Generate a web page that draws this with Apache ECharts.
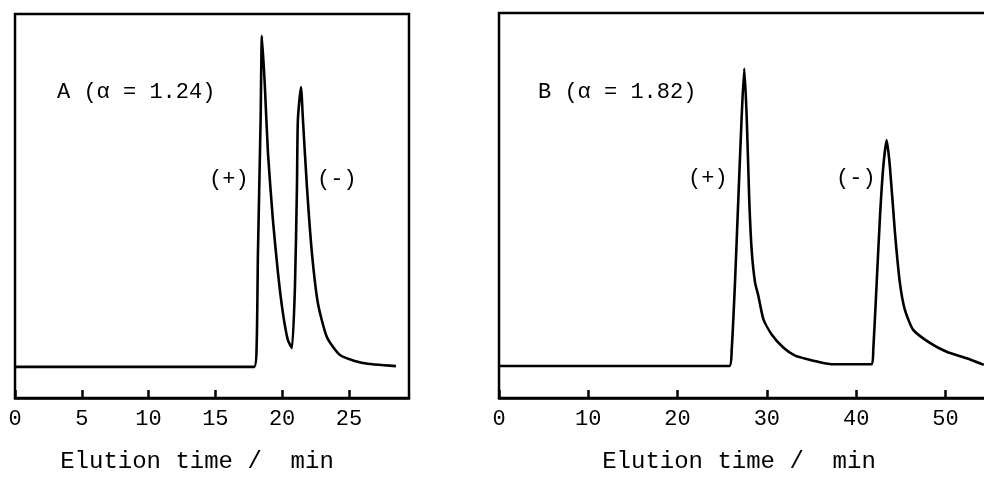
<!DOCTYPE html>
<html>
<head>
<meta charset="utf-8">
<script src="https://cdn.jsdelivr.net/npm/echarts@6/dist/echarts.min.js"></script>
<style>html,body{margin:0;padding:0;background:#fff;}#c{width:984px;height:481px;}</style>
</head>
<body>
<div id="c"></div>
<script>
// Panel A: elution time (min) and detector signal (relative units, 0-100 full box)
var timeA = [0, 17.89, 18.09, 18.19, 18.39, 18.49, 18.71, 18.94, 19.31, 19.69, 20.06, 20.43, 20.73, 20.96, 21.11, 21.18, 21.41, 21.56, 21.86, 22.23, 22.68, 23.35, 24.33, 26.05, 28.52];
var signalA = [8.1, 8.1, 13.3, 37.8, 72.4, 94.3, 81.0, 63.8, 46.4, 32.6, 22.1, 15.1, 13.0, 28.9, 54.9, 72.4, 81.0, 72.4, 54.9, 37.8, 24.7, 15.9, 11.2, 9.1, 8.3];
// Panel B
var timeB = [0, 25.79, 26.06, 26.43, 26.80, 27.18, 27.47, 27.74, 28.03, 28.30, 28.67, 29.05, 29.61, 30.54, 31.84, 33.16, 35.20, 37.26, 41.74, 41.92, 42.30, 42.67, 43.04, 43.42, 43.78, 44.35, 44.90, 45.46, 46.39, 48.26, 50.13, 52.37, 54.30];
var signalB = [8.3, 8.3, 12.5, 29.9, 51.4, 73.1, 85.6, 73.1, 51.4, 38.4, 30.1, 26.5, 20.5, 16.5, 13.1, 11.0, 9.7, 8.75, 8.75, 12.5, 29.9, 47.1, 60.1, 67.0, 60.1, 42.9, 29.9, 22.9, 17.7, 14.3, 12.0, 10.3, 8.6];
var labelA = 'A (\u03b1 = 1.24)';
var labelB = 'B (\u03b1 = 1.82)';
var peakLabels = ['(+)', '(-)'];
var axisTitle = 'Elution time /  min';

function zip(a, b) { return a.map(function (v, i) { return [v, b[i]]; }); }

var FONT = '"Liberation Mono", "DejaVu Sans Mono", monospace';
var chart = echarts.init(document.getElementById('c'), null, {renderer: 'canvas'});

function xAxisCfg(idx, max, interval) {
  return {
    type: 'value', gridIndex: idx, min: 0, max: max, interval: interval,
    axisLine: {show: true, onZero: false, lineStyle: {color: '#000', width: 2.5}},
    axisTick: {show: true, inside: true, length: 8, lineStyle: {color: '#000', width: 2.5}},
    axisLabel: {show: true, color: '#000', fontFamily: FONT, fontSize: 22, margin: 10, showMaxLabel: false, showMinLabel: true},
    splitLine: {show: false}
  };
}
function yAxisCfg(idx) {
  return {
    type: 'value', gridIndex: idx, min: 0, max: 100,
    axisLine: {show: false}, axisTick: {show: false}, axisLabel: {show: false}, splitLine: {show: false}
  };
}
function seriesCfg(idx, data) {
  return {
    type: 'line', xAxisIndex: idx, yAxisIndex: idx, data: data,
    showSymbol: false, smooth: 0.2, animation: false,
    lineStyle: {color: '#000', width: 2.6, join: 'round'}, silent: true
  };
}
function txt(x, y, s, size, align) {
  return {type: 'text', x: x, y: y, silent: true,
    style: {text: s, fill: '#000', font: size + 'px ' + FONT, textAlign: align || 'left', textVerticalAlign: 'middle'}};
}

chart.setOption({
  backgroundColor: '#fff',
  animation: false,
  grid: [
    {left: 15, top: 14, width: 394, height: 384, show: true, borderColor: '#000', borderWidth: 2.5, backgroundColor: 'transparent', containLabel: false, outerBoundsMode: 'none'},
    {left: 499, top: 13, width: 500, height: 385, show: true, borderColor: '#000', borderWidth: 2.5, backgroundColor: 'transparent', containLabel: false, outerBoundsMode: 'none'}
  ],
  xAxis: [xAxisCfg(0, 29.5, 5), xAxisCfg(1, 56, 10)],
  yAxis: [yAxisCfg(0), yAxisCfg(1)],
  series: [seriesCfg(0, zip(timeA, signalA)), seriesCfg(1, zip(timeB, signalB))],
  graphic: [
    txt(57, 92, labelA, 22),
    txt(538, 92, labelB, 22),
    txt(209, 179, peakLabels[0], 22),
    txt(317, 179, peakLabels[1], 22),
    txt(688, 178, peakLabels[0], 22),
    txt(836, 178, peakLabels[1], 22),
    txt(197, 462, axisTitle, 24, 'center'),
    txt(739, 462, axisTitle, 24, 'center')
  ]
});
</script>
</body>
</html>
